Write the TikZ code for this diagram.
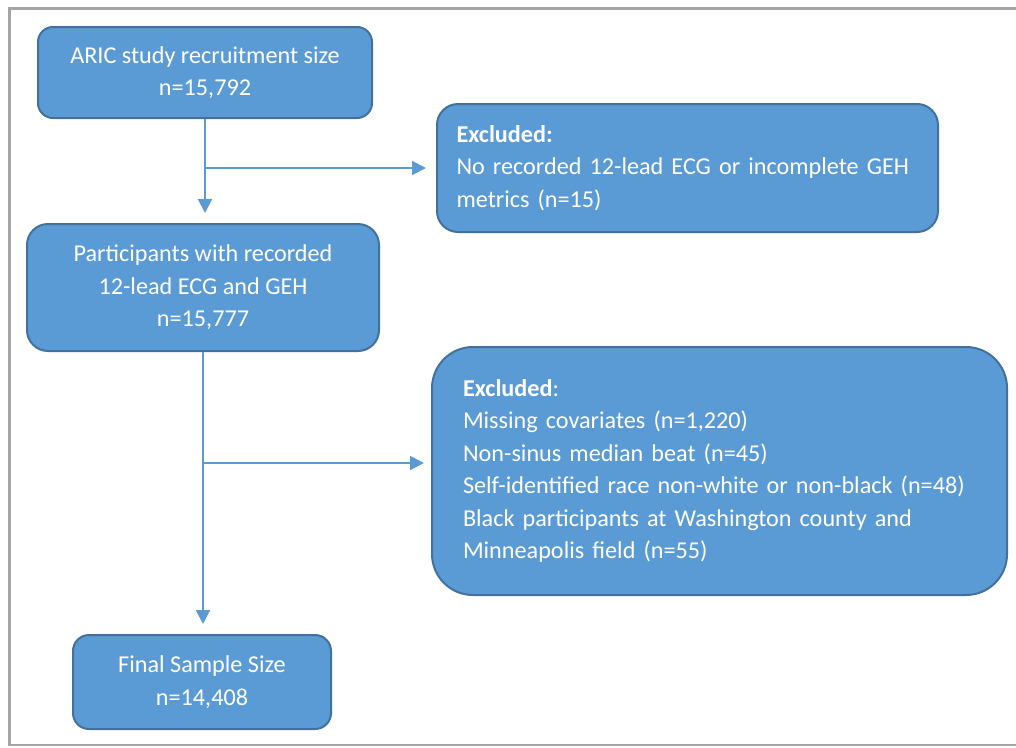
\documentclass[tikz,border=0pt]{standalone}
\usepackage{fontspec}
\setmainfont{Carlito}
\usetikzlibrary{arrows.meta}
\definecolor{boxfill}{HTML}{5B9BD5}
\definecolor{boxline}{HTML}{41719C}
\definecolor{framegray}{HTML}{A5A5A5}
\begin{document}
\begin{tikzpicture}[x=1pt,y=-1pt,
  box/.style={draw=boxline,fill=boxfill,line width=2pt,text=white,align=center,inner sep=0pt,
    font=\fontsize{24.2}{32.5}\selectfont},
  exbox/.style={box,align=left},
  arr/.style={draw=boxfill,line width=2pt,-{Triangle[length=14pt,width=14pt]}}]
\useasboundingbox (0,0) rectangle (1016,747);
\draw[framegray,line width=2.5pt] (1016,8.5) -- (9.5,8.5) -- (9.5,745) -- (1016,745);
\node[box,rounded corners=15pt,minimum width=334pt,minimum height=91pt] (aric) at (205,72.5)
  {ARIC study recruitment size\\n=15,792};
\node[exbox,rounded corners=21pt,minimum width=501pt,minimum height=128pt,text width=462pt,inner xsep=19.5pt] (excl1) at (687.5,168)
  {\textbf{Excluded:}\\No recorded 12-lead ECG or incomplete GEH\\metrics (n=15)};
\node[box,rounded corners=21pt,minimum width=352pt,minimum height=127pt] (part) at (203,287.5)
  {Participants with recorded\\12-lead ECG and GEH\\n=15,777};
\node[exbox,rounded corners=41pt,minimum width=575pt,minimum height=248pt,text width=513pt,inner xsep=31pt] (excl2) at (719.5,471)
  {\textbf{Excluded}:\\Missing covariates (n=1,220)\\Non-sinus median beat (n=45)\\Self-identified race non-white or non-black (n=48)\\Black participants at Washington county and\\Minneapolis field (n=55)};
\node[box,rounded corners=16pt,minimum width=258pt,minimum height=94pt] (final) at (202,682)
  {Final Sample Size\\n=14,408};
\coordinate (j1) at (aric.south |- excl1.west);
\coordinate (j2) at (203,463);
\draw[arr,shorten >=10pt] (aric.south) -- (aric.south |- part.north);
\draw[arr,shorten >=10pt] (j1) -- (excl1.west);
\draw[arr,shorten >=10pt] (part.south) -- (part.south |- final.north);
\draw[arr,shorten >=7pt] (j2) -- (j2 -| excl2.west);
\end{tikzpicture}
\end{document}
